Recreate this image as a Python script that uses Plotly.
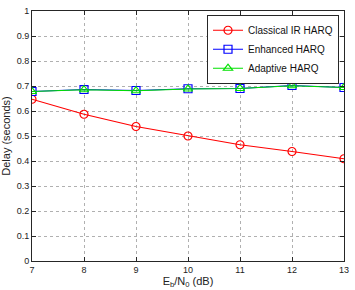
import plotly.graph_objects as go

ebn0 = [7, 8, 9, 10, 11, 12, 13]
classical = [0.647, 0.587, 0.538, 0.500, 0.465, 0.438, 0.409]
enhanced = [0.678, 0.686, 0.682, 0.689, 0.690, 0.702, 0.694]
adaptive = [0.678, 0.685, 0.681, 0.688, 0.690, 0.701, 0.694]

xticks = [7, 8, 9, 10, 11, 12, 13]
yticks = [0, 0.1, 0.2, 0.3, 0.4, 0.5, 0.6, 0.7, 0.8, 0.9, 1]
yticklabels = ["0", "0.1", "0.2", "0.3", "0.4", "0.5", "0.6", "0.7", "0.8", "0.9", "1"]

fig = go.Figure()
fig.add_trace(go.Scatter(x=ebn0, y=classical, name="Classical IR HARQ", mode="lines+markers",
                         line=dict(color="#ff0000", width=1.2),
                         marker=dict(symbol="circle-open", size=8, color="#ff0000", line=dict(width=1.2))))
fig.add_trace(go.Scatter(x=ebn0, y=enhanced, name="Enhanced HARQ", mode="lines+markers",
                         line=dict(color="#0000ff", width=1.2),
                         marker=dict(symbol="square-open", size=8, color="#0000ff", line=dict(width=1.2))))
fig.add_trace(go.Scatter(x=ebn0, y=adaptive, name="Adaptive HARQ", mode="lines+markers",
                         line=dict(color="#00e000", width=1.2),
                         marker=dict(symbol="triangle-up-open", size=8, color="#00e000", line=dict(width=1.2))))

axis_common = dict(showline=True, linecolor="#262626", linewidth=1, mirror="ticks",
                   ticks="inside", ticklen=4, tickcolor="#262626",
                   showgrid=True, gridcolor="#b0b0b0", griddash="dot", gridwidth=1,
                   zeroline=False, tickfont=dict(family="Liberation Sans, Arial", size=9, color="#222"))

fig.update_layout(
    width=355, height=290,
    margin=dict(l=29, r=6, t=6, b=24),
    plot_bgcolor="white", paper_bgcolor="white",
    font=dict(family="Liberation Sans, Arial", color="#222"),
    xaxis=dict(range=[7, 13], tickvals=xticks, ticktext=[str(t) for t in xticks],
               title=dict(text="E<sub>b</sub>/N<sub>0</sub> (dB)", font=dict(size=11), standoff=2),
               **axis_common),
    yaxis=dict(range=[0, 1], tickvals=yticks, ticktext=yticklabels,
               title=dict(text="Delay (seconds)", font=dict(size=11), standoff=3),
               **axis_common),
    legend=dict(x=0.984, y=0.985, xanchor="right", yanchor="top",
                bgcolor="white", bordercolor="#262626", borderwidth=1,
                font=dict(size=10, color="#111"), tracegroupgap=0, itemwidth=30),
    showlegend=True,
)

fig.write_html("out.html")
